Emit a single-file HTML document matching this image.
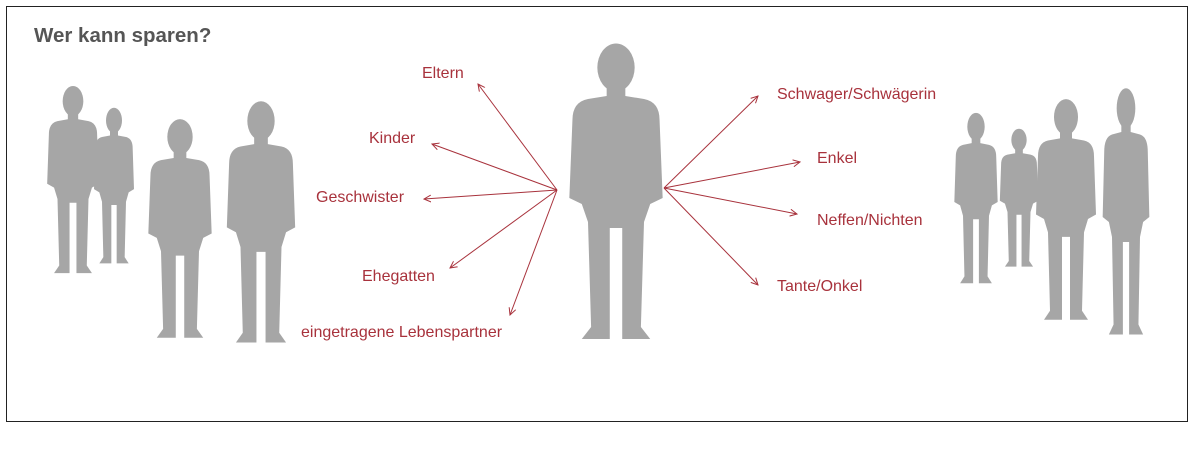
<!DOCTYPE html>
<html><head><meta charset="utf-8"><style>
body{margin:0;background:#fff;width:1193px;height:456px;overflow:hidden;position:relative;font-family:"Liberation Sans",sans-serif}
.box{position:absolute;left:6px;top:6px;width:1180px;height:414px;border:1px solid #222}
.t{position:absolute;color:#a8323c;font-size:16px;white-space:nowrap;line-height:1}
svg{position:absolute;left:0;top:0}
</style></head><body>
<div class="box"></div>
<div style="position:absolute;left:34px;top:24px;font-size:20.5px;font-weight:bold;color:#555">Wer kann sparen?</div>
<svg width="1193" height="456">
<defs>
<symbol id="p" viewBox="0 0 36 100" preserveAspectRatio="none">
<ellipse cx="18" cy="8.5" rx="6" ry="8" fill="#a6a6a6"/>
<path fill="#a6a6a6" d="M15 15 L21 15 L21 18 L27 19 Q32 20 32 26 L33 52 L29 54 L27 60 L26 95 L29 99 L20 99 L20 62 L16 62 L16 99 L7 99 L10 95 L9 60 L7 54 L3 52 L4 26 Q4 20 9 19 L15 18 Z"/>
</symbol>
<marker id="a" markerWidth="8" markerHeight="8" refX="7" refY="4" orient="auto" markerUnits="userSpaceOnUse"><path d="M0 0.5 L7 4 L0 7.5" fill="none" stroke="#a8323c" stroke-width="1"/></marker>
</defs>
<use href="#p" x="42" y="85" width="62" height="190"/>
<use href="#p" x="90" y="107" width="48" height="158"/>
<use href="#p" x="142" y="118" width="76" height="222"/>
<use href="#p" x="220" y="100" width="82" height="245"/>
<use href="#p" x="560" y="42" width="112" height="300"/>
<use href="#p" x="950" y="112" width="52" height="173"/>
<use href="#p" x="996" y="128" width="46" height="140"/>
<use href="#p" x="1030" y="98" width="72" height="224"/>
<use href="#p" x="1098" y="87" width="56" height="250"/>
<g stroke="#a8323c" stroke-width="1" marker-end="url(#a)">
<line x1="557" y1="190" x2="478" y2="84"/>
<line x1="557" y1="190" x2="432" y2="144"/>
<line x1="557" y1="190" x2="424" y2="199"/>
<line x1="557" y1="190" x2="450" y2="268"/>
<line x1="557" y1="190" x2="510" y2="315"/>
<line x1="664" y1="188" x2="758" y2="96"/>
<line x1="664" y1="188" x2="800" y2="162"/>
<line x1="664" y1="188" x2="797" y2="214"/>
<line x1="664" y1="188" x2="758" y2="285"/>
</g>
</svg>
<div class="t" style="left:422px;top:66px">Eltern</div>
<div class="t" style="left:369px;top:131px">Kinder</div>
<div class="t" style="left:316px;top:190px">Geschwister</div>
<div class="t" style="left:362px;top:269px">Ehegatten</div>
<div class="t" style="left:301px;top:325px">eingetragene Lebenspartner</div>
<div class="t" style="left:777px;top:87px">Schwager/Schwägerin</div>
<div class="t" style="left:817px;top:151px">Enkel</div>
<div class="t" style="left:817px;top:213px">Neffen/Nichten</div>
<div class="t" style="left:777px;top:279px">Tante/Onkel</div>
</body></html>
